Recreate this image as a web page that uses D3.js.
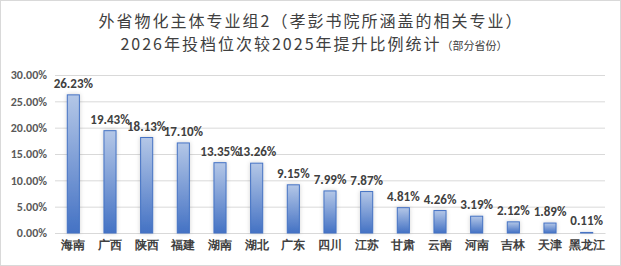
<!DOCTYPE html>
<html>
<head>
<meta charset="utf-8">
<script src="https://cdn.jsdelivr.net/npm/d3@7"></script>
<style>
  html, body { margin: 0; padding: 0; background: #fff; }
  svg { display: block; font-family: "Microsoft YaHei", "Noto Sans CJK SC", sans-serif; }
</style>
</head>
<body>
<div id="chart"></div>
<script>
// Data
const provinces = ["海南", "广西", "陕西", "福建", "湖南", "湖北", "广东", "四川", "江苏", "甘肃", "云南", "河南", "吉林", "天津", "黑龙江"];
const rises = [26.23, 19.43, 18.13, 17.10, 13.35, 13.26, 9.15, 7.99, 7.87, 4.81, 4.26, 3.19, 2.12, 1.89, 0.11];
const yTicks = [0, 5, 10, 15, 20, 25, 30];

const width = 621, height = 266;
const margin = { top: 75, right: 16, bottom: 33, left: 55 };
const numFont = "Calibri, Carlito, 'Liberation Sans', sans-serif";

const svg = d3.select("#chart").append("svg")
    .attr("width", width)
    .attr("height", height);

// frame
svg.append("rect")
    .attr("x", 0.5).attr("y", 0.5)
    .attr("width", width - 1).attr("height", height - 1)
    .attr("fill", "#fff")
    .attr("stroke", "#d9d9d9");

const defs = svg.append("defs");

// gradient for bars
const grad = defs.append("linearGradient")
    .attr("id", "barGrad")
    .attr("x1", 0).attr("y1", 0).attr("x2", 0).attr("y2", 1);
grad.append("stop").attr("offset", "0%").attr("stop-color", "#b4c7e7");
grad.append("stop").attr("offset", "100%").attr("stop-color", "#4472c4");

// soft shadow
defs.append("filter")
    .attr("id", "shadow")
    .attr("x", "-50%").attr("y", "-10%").attr("width", "200%").attr("height", "120%")
    .append("feDropShadow")
    .attr("dx", 0).attr("dy", 0).attr("stdDeviation", 2)
    .attr("flood-color", "#000").attr("flood-opacity", 0.18);

// title
svg.append("text")
    .attr("x", 311).attr("y", 27)
    .attr("text-anchor", "middle")
    .attr("fill", "#404040")
    .attr("font-size", 16)
    .attr("letter-spacing", 2)
    .text("外省物化主体专业组2（孝彭书院所涵盖的相关专业）");
const t2 = svg.append("text")
    .attr("x", 314).attr("y", 50)
    .attr("text-anchor", "middle")
    .attr("fill", "#404040")
    .attr("font-size", 16)
    .attr("letter-spacing", 2);
t2.append("tspan").text("2026年投档位次较2025年提升比例统计");
t2.append("tspan").attr("font-size", 11).attr("letter-spacing", 0).text("（部分省份）");

const x = d3.scaleBand()
    .domain(provinces)
    .range([margin.left, width - margin.right])
    .paddingInner(0.67)
    .paddingOuter(0.335);

const y = d3.scaleLinear()
    .domain([0, 30])
    .range([height - margin.bottom, margin.top]);

// grid + y axis
svg.append("g")
    .attr("transform", `translate(${margin.left},0)`)
    .call(d3.axisLeft(y).tickValues(yTicks).tickFormat(d => d.toFixed(2) + "%").tickSize(0).tickPadding(8))
    .call(g => g.select(".domain").remove())
    .call(g => g.selectAll(".tick text")
        .attr("fill", "#595959")
        .attr("font-size", 12)
        .attr("font-weight", "bold")
        .attr("font-family", numFont))
    .call(g => g.selectAll(".tick line").clone()
        .attr("x2", width - margin.right - margin.left)
        .attr("stroke", "#d9d9d9"));

// x axis
svg.append("g")
    .attr("transform", `translate(0,${height - margin.bottom})`)
    .call(d3.axisBottom(x).tickSize(0).tickPadding(7))
    .call(g => g.select(".domain").attr("stroke", "#d9d9d9"))
    .call(g => g.selectAll(".tick text")
        .attr("fill", "#404040")
        .attr("font-size", 12)
        .attr("font-weight", "bold"));

// bars
svg.append("g")
    .attr("filter", "url(#shadow)")
    .selectAll("rect")
    .data(provinces)
    .join("rect")
    .attr("x", d => x(d))
    .attr("y", (d, i) => y(rises[i]))
    .attr("width", x.bandwidth())
    .attr("height", (d, i) => y(0) - y(rises[i]))
    .attr("fill", "url(#barGrad)")
    .attr("stroke", "#4472c4")
    .attr("stroke-width", 1);

// value labels
svg.append("g")
    .selectAll("text")
    .data(provinces)
    .join("text")
    .attr("x", d => x(d) + x.bandwidth() / 2)
    .attr("y", (d, i) => y(rises[i]) - 7)
    .attr("text-anchor", "middle")
    .attr("fill", "#404040")
    .attr("font-size", 13)
    .attr("font-weight", "bold")
    .attr("font-family", numFont)
    .text((d, i) => rises[i].toFixed(2) + "%");
</script>
</body>
</html>
